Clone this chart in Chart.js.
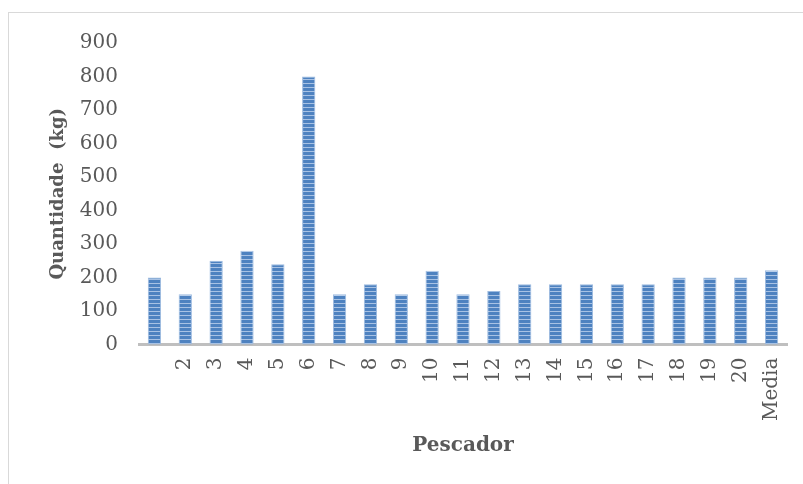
<!DOCTYPE html>
<html lang="pt">
<head>
  <meta charset="UTF-8">
  <title>Quantidade por pescador</title>
  <script src="https://cdn.jsdelivr.net/npm/chart.js"></script>
  <style>
    body {
      margin: 0;
      background: #fff;
    }
    .frame {
      position: absolute;
      left: 8px;
      top: 12px;
      width: 820px;
      height: 500px;
      border: 1px solid #d9d9d9;
    }
    .wrap {
      position: absolute;
      left: 0;
      top: 0;
      width: 803px;
      height: 484px;
    }
  </style>
</head>
<body>
  <div class="frame"></div>
  <div class="wrap"><canvas id="chart" width="803" height="484"></canvas></div>

  <script>
    const labels = ["", "2", "3", "4", "5", "6", "7", "8", "9", "10", "11", "12", "13", "14", "15", "16", "17", "18", "19", "20", "Media"];
    const quantidade = [200, 150, 250, 280, 240, 800, 150, 180, 150, 220, 150, 160, 180, 180, 180, 180, 180, 200, 200, 200, 222];
    const yTicks = [0, 100, 200, 300, 400, 500, 600, 700, 800, 900];

    // striped fill like the original bars
    function stripes() {
      const c = document.createElement("canvas");
      c.width = 8;
      c.height = 4;
      const g = c.getContext("2d");
      g.fillStyle = "#4e82c0";
      g.fillRect(0, 0, 8, 4);
      g.fillStyle = "#a8c2e4";
      g.fillRect(0, 3, 8, 1);
      return g.createPattern(c, "repeat");
    }

    const font = "'DejaVu Serif', 'Liberation Serif', serif";

    new Chart(document.getElementById("chart"), {
      type: "bar",
      data: {
        labels: labels,
        datasets: [{
          data: quantidade,
          backgroundColor: stripes(),
          borderColor: "#9dbbe0",
          borderWidth: 1,
          barPercentage: 0.43,
          categoryPercentage: 1
        }]
      },
      options: {
        responsive: false,
        animation: false,
        layout: { padding: { left: 44, right: 16, top: 43, bottom: 22 } },
        plugins: { legend: { display: false }, tooltip: { enabled: false } },
        scales: {
          x: {
            afterFit: axis => { axis.paddingRight = 0; },
            grid: { display: false, drawTicks: false },
            border: { color: "#bfbfbf", width: 3 },
            ticks: {
              color: "#595959",
              font: { family: font, size: 20 },
              autoSkip: false,
              minRotation: 90,
              maxRotation: 90,
              padding: 13
            },
            title: {
              display: true,
              text: "Pescador",
              color: "#595959",
              font: { family: font, size: 20, weight: "bold" },
              padding: { top: 0 }
            }
          },
          y: {
            min: 0,
            max: 900,
            afterBuildTicks: axis => { axis.ticks = yTicks.map(v => ({ value: v })); },
            afterFit: axis => { axis.width = 95; },
            grid: { display: false, drawTicks: false },
            border: { display: false },
            ticks: {
              color: "#595959",
              font: { family: font, size: 20 },
              padding: 21
            },
            title: {
              display: true,
              text: "Quantidade  (kg)",
              color: "#595959",
              font: { family: font, size: 18, weight: "bold" },
              padding: { bottom: 4 }
            }
          }
        }
      }
    });
  </script>
</body>
</html>
